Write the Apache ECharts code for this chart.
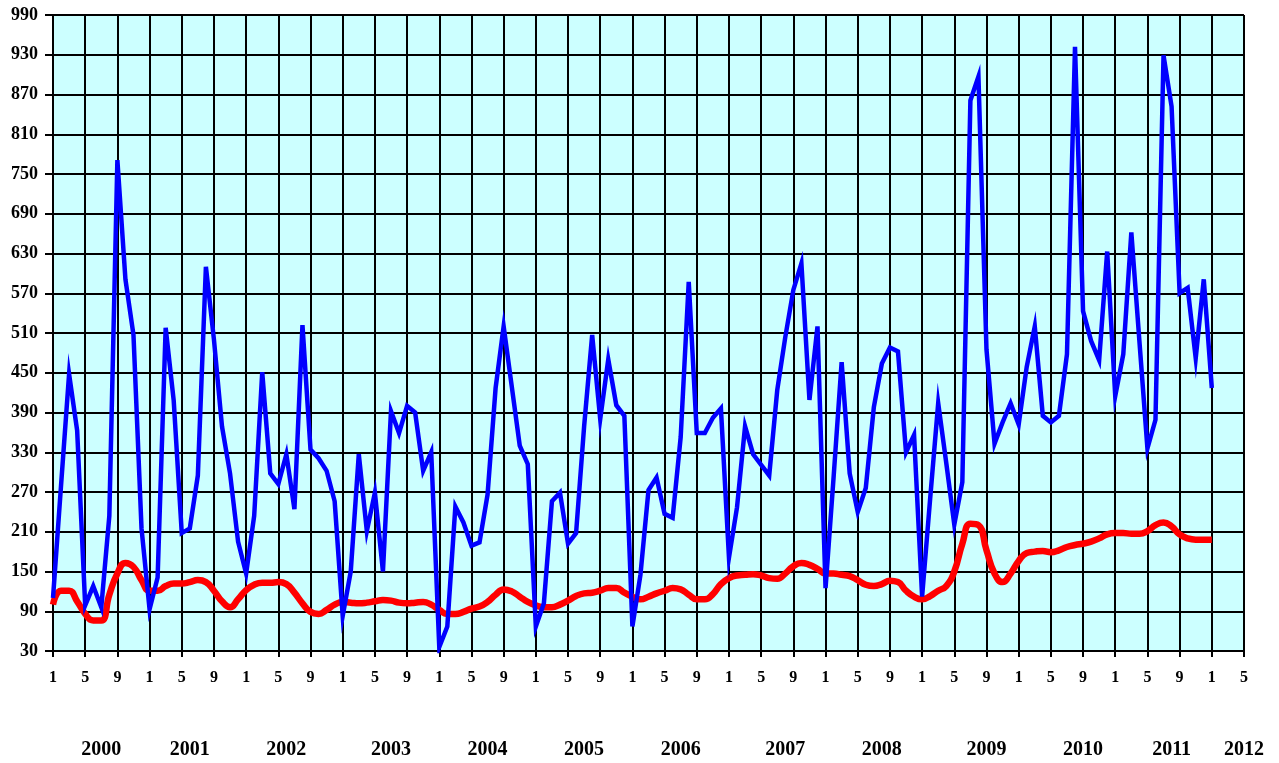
<!DOCTYPE html>
<html>
<head>
<meta charset="utf-8">
<title>chart</title>
<script src="https://cdn.jsdelivr.net/npm/echarts@6/dist/echarts.min.js"></script>
<style>
  html, body { margin: 0; padding: 0; background: #fff; }
  #chart { width: 1279px; height: 763px; }
</style>
</head>
<body>
<div id="chart"></div>
<script>
// monthly values, Jan 2000 .. Jan 2012
let blueValues = [
  110, 280, 448, 363, 99, 128, 96, 234, 771, 591, 507, 215,
  93, 141, 518, 408, 208, 215, 295, 610, 500, 369, 298, 195,
  147, 234, 451, 298, 282, 327, 244, 522, 334, 321, 302, 256,
  83, 150, 327, 211, 269, 150, 392, 359, 400, 390, 302, 330,
  36, 67, 248, 224, 189, 194, 266, 427, 520, 430, 340, 312,
  67, 102, 256, 269, 192, 208, 369, 507, 380, 470, 401, 385,
  67, 145, 273, 292, 237, 231, 353, 587, 359, 359, 382, 396,
  171, 247, 369, 327, 311, 295, 424, 504, 575, 615, 409, 520,
  125, 292, 466, 298, 240, 276, 398, 464, 488, 482, 330, 356,
  112, 260, 404, 314, 221, 285, 861, 897, 485, 343, 375, 404,
  372, 459, 520, 385, 375, 385, 478, 942, 543, 498, 469, 633,
  415, 478, 662, 498, 336, 379, 929, 852, 570, 578, 472, 591,
  427
]
let redValues = [
  100, 121, 121, 105, 86, 76, 76, 115, 147, 163, 157, 137,
  121, 121, 128, 132, 132, 134, 137, 134, 121, 105, 96, 108,
  122, 130, 133, 133, 134, 131, 118, 102, 89, 86, 92, 100,
  104, 103, 102, 103, 105, 107, 106, 103, 102, 103, 104, 100,
  92, 86, 86, 89, 94, 97, 104, 115, 123, 120, 112, 104,
  99, 96, 96, 100, 106, 113, 117, 118, 121, 125, 125, 118,
  112, 108, 112, 117, 121, 125, 123, 115, 108, 108, 116, 131,
  140, 144, 145, 146, 144, 140, 139, 147, 158, 163, 160, 154,
  147, 147, 145, 143, 137, 130, 128, 131, 136, 134, 121, 112,
  108, 113, 121, 128, 150, 192, 222, 220, 182, 147, 134, 147,
  166, 178, 180, 181, 179, 182, 187, 190, 192, 195, 200, 206,
  208, 208, 207, 207, 211, 220, 224, 218, 206, 200, 198, 198,
  198
]
let yearLabels = ['2000', '2001', '2002', '2003', '2004', '2005', '2006',
  '2007', '2008', '2009', '2010', '2011', '2012']
let yearAt = [6, 17, 29, 42, 54, 66, 78, 91, 103, 116, 128, 139, 148]

// month numbers Jan 2000 .. May 2012
let months = []
for (let i = 0; i < 149; i++) {
  months.push(String((i % 12) + 1))
}

let chart = echarts.init(document.getElementById('chart'))
let serif = 'Liberation Serif, Times New Roman, serif'
let option = {
  animation: false,
  backgroundColor: '#ffffff',
  grid: {
    left: 53,
    right: 35,
    top: 15,
    bottom: 112,
    show: true,
    backgroundColor: '#CCFFFF',
    borderWidth: 0,
    containLabel: false,
    outerBoundsMode: 'none'
  },
  xAxis: [
    {
      type: 'category',
      data: months,
      boundaryGap: false,
      axisLine: { lineStyle: { color: '#000', width: 2 } },
      axisTick: { interval: 3, length: 6, lineStyle: { color: '#000', width: 2 } },
      axisLabel: {
        interval: 3,
        margin: 19,
        color: '#000',
        fontFamily: serif,
        fontWeight: 'bold',
        fontSize: 16
      },
      splitLine: { show: true, interval: 3, lineStyle: { color: '#000', width: 2 } }
    },
    {
      type: 'category',
      data: months,
      boundaryGap: false,
      position: 'bottom',
      offset: 81,
      axisLine: { show: false },
      axisTick: { show: false },
      splitLine: { show: false },
      axisLabel: {
        interval: 0,
        margin: 8,
        color: '#000',
        fontFamily: serif,
        fontWeight: 'bold',
        fontSize: 20,
        formatter: function (v, i) {
          let k = yearAt.indexOf(i)
          return k >= 0 ? yearLabels[k] : ''
        }
      }
    }
  ],
  yAxis: {
    type: 'value',
    min: 30,
    max: 990,
    interval: 60,
    axisLine: { show: true, lineStyle: { color: '#000', width: 2 } },
    axisTick: { show: true, length: 8, lineStyle: { color: '#000', width: 2 } },
    axisLabel: {
      margin: 15,
      color: '#000',
      fontFamily: serif,
      fontWeight: 'bold',
      fontSize: 18
    },
    splitLine: { show: true, lineStyle: { color: '#000', width: 2 } }
  },
  series: [
    {
      name: 'red',
      type: 'line',
      data: redValues,
      smooth: true,
      showSymbol: false,
      symbol: 'none',
      lineStyle: { color: '#FF0000', width: 6.5 }
    },
    {
      name: 'blue',
      type: 'line',
      data: blueValues,
      showSymbol: false,
      symbol: 'none',
      lineStyle: { color: '#0000FF', width: 4.5, join: 'miter' }
    }
  ]
}
chart.setOption(option)
</script>
</body>
</html>
